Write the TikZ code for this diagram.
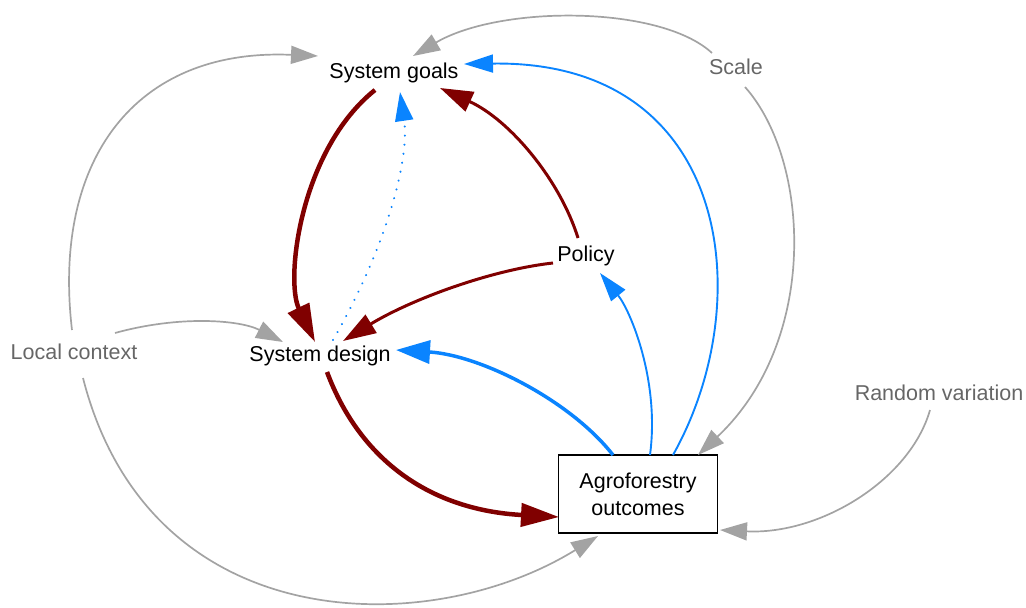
\documentclass[tikz,border=0pt]{standalone}
\usepackage{fontspec}
\setmainfont{Liberation Sans}
\usetikzlibrary{arrows.meta,calc}
\definecolor{dred}{HTML}{800000}
\definecolor{eblue}{HTML}{0A84FF}
\definecolor{lgray}{HTML}{A3A3A3}
\definecolor{tgray}{HTML}{666666}
\begin{document}
\begin{tikzpicture}[x=1pt,y=-1pt,
  lbl/.style={font=\fontsize{21.5}{25}\selectfont, text=black, inner sep=0pt},
  ext/.style={font=\fontsize{21.5}{25}\selectfont, text=tgray, inner sep=0pt},
  boxnode/.style={draw=black, line width=1.5pt, minimum width=159pt, minimum height=78pt, align=center, font=\fontsize{21.5}{27}\selectfont},
  grayedge/.style={draw=lgray, line width=1.7pt, -{Triangle[length=27pt,width=18pt]}},
  redthick/.style={draw=dred, line width=4.5pt, -{Triangle[length=38pt,width=23pt]}},
  redmed/.style={draw=dred, line width=3pt, -{Triangle[length=33pt,width=21pt]}},
  bluethick/.style={draw=eblue, line width=3.5pt, -{Triangle[length=34pt,width=23pt]}},
  bluethin/.style={draw=eblue, line width=1.9pt, -{Triangle[length=29pt,width=18pt]}},
  bluedot/.style={draw=eblue, line width=2.2pt, line cap=round, dash pattern=on 0.1pt off 9pt, -{Triangle[length=29pt,width=18pt]}}
]
\useasboundingbox (0,0) rectangle (1026,608);
\node[lbl] (sg) at (394,73) {System goals};
\node[lbl] (sd) at (320,356) {System design};
\node[lbl] (po) at (586,256) {Policy};
\node[boxnode] (af) at (638,494) {Agroforestry\\outcomes};
\node[ext] (lc) at (74,352) {Local context};
\node[ext] (sc) at (736,67) {Scale};
\node[ext] (rv) at (939,393) {Random variation};

% gray external influences
\draw[grayedge] ($(lc)+(-2,-22)$) .. controls (52,160) and (135,48) .. ($(sg)+(-76,-17)$);
\draw[grayedge] ($(lc)+(9,26)$) .. controls (150,640) and (430,640) .. ($(af)+(-40,42)$);
\draw[grayedge] ($(lc)+(41,-19)$) .. controls (180,315) and (240,320) .. ($(sd)+(-37,-14)$);
\draw[grayedge] ($(sc)+(-24,-14)$) .. controls (660,5) and (500,5) .. ($(sg)+(19,-17)$);
\draw[grayedge] ($(sc)+(9,20)$) .. controls (810,160) and (820,340) .. ($(af)+(60,-39)$);
\draw[grayedge] ($(rv)+(-9,17)$) .. controls (910,480) and (820,535) .. ($(af)+(82,36)$);

% red
\draw[redthick] ($(sg)+(-19,17)$) .. controls (300,150) and (285,280) .. ($(sd)+(-5,-14)$);
\draw[redmed] ($(po)+(-8,-18)$) .. controls (560,180) and (510,120) .. ($(sg)+(46,15)$);
\draw[redmed] ($(po)+(-33,7)$) .. controls (490,270) and (410,300) .. ($(sd)+(23,-15)$);
\draw[redthick] ($(sd)+(7,16)$) .. controls (360,460) and (430,510) .. ($(af)+(-79,23)$);

% blue
\draw[bluedot] ($(sd)+(13,-16)$) .. controls (385,250) and (410,160) .. ($(sg)+(6,19)$);
\draw[bluethick] ($(af)+(-25,-39)$) .. controls (570,400) and (480,355) .. ($(sd)+(76,-6)$);
\draw[bluethin] ($(af)+(12,-39)$) .. controls (660,380) and (630,310) .. ($(po)+(14,17)$);
\draw[bluethin] ($(af)+(35,-39)$) .. controls (760,300) and (730,60) .. ($(sg)+(70,-9)$);
\end{tikzpicture}
\end{document}
